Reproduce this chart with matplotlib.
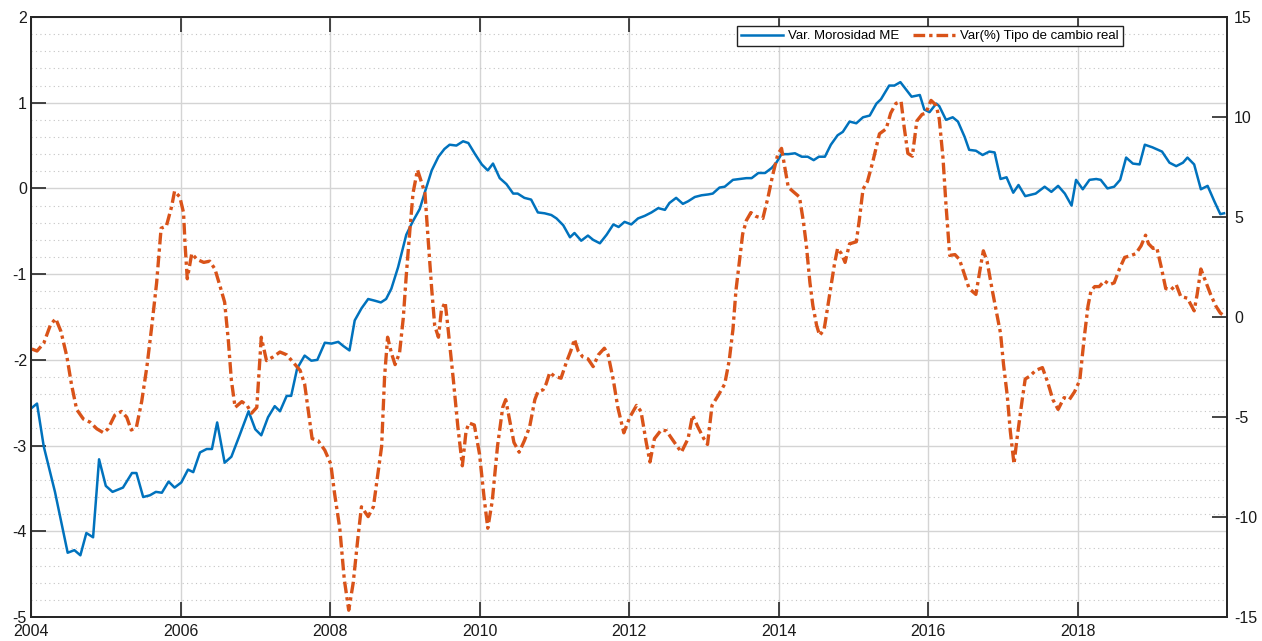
import matplotlib
matplotlib.use('Agg')
import matplotlib.pyplot as plt
import numpy as np

plt.rcParams['font.family'] = ['Liberation Sans', 'DejaVu Sans']

# Var. morosidad ME (eje izquierdo)
mor_t = [2004.01, 2004.08, 2004.17, 2004.32, 2004.49, 2004.58, 2004.66, 2004.74, 2004.83, 2004.91,
         2005.00, 2005.09, 2005.23, 2005.35, 2005.41, 2005.50, 2005.59, 2005.67, 2005.75, 2005.84,
         2005.92, 2006.01, 2006.10, 2006.17, 2006.26, 2006.35, 2006.42, 2006.49, 2006.59, 2006.68,
         2006.79, 2006.91, 2007.00, 2007.08, 2007.17, 2007.26, 2007.33, 2007.42, 2007.48, 2007.56,
         2007.66, 2007.75, 2007.83, 2007.93, 2008.02, 2008.11, 2008.18, 2008.26, 2008.33, 2008.42,
         2008.51, 2008.60, 2008.68, 2008.75, 2008.82, 2008.91, 2009.02, 2009.11, 2009.20, 2009.27,
         2009.36, 2009.45, 2009.53, 2009.60, 2009.69, 2009.78, 2009.85, 2009.94, 2010.03, 2010.11,
         2010.18, 2010.27, 2010.36, 2010.45, 2010.51, 2010.60, 2010.69, 2010.78, 2010.87, 2010.96,
         2011.03, 2011.12, 2011.21, 2011.27, 2011.36, 2011.45, 2011.52, 2011.61, 2011.70, 2011.79,
         2011.86, 2011.94, 2012.03, 2012.12, 2012.21, 2012.30, 2012.39, 2012.48, 2012.54, 2012.63,
         2012.72, 2012.79, 2012.88, 2012.97, 2013.06, 2013.12, 2013.21, 2013.28, 2013.39, 2013.48,
         2013.57, 2013.64, 2013.73, 2013.82, 2013.91, 2013.97, 2014.04, 2014.13, 2014.22, 2014.31,
         2014.39, 2014.47, 2014.54, 2014.62, 2014.70, 2014.79, 2014.86, 2014.95, 2015.04, 2015.13,
         2015.22, 2015.31, 2015.37, 2015.48, 2015.55, 2015.63, 2015.71, 2015.78, 2015.89, 2015.95,
         2016.02, 2016.11, 2016.15, 2016.24, 2016.33, 2016.40, 2016.49, 2016.55, 2016.64, 2016.73,
         2016.82, 2016.89, 2016.97, 2017.05, 2017.14, 2017.21, 2017.30, 2017.44, 2017.56, 2017.65,
         2017.74, 2017.83, 2017.92, 2017.98, 2018.07, 2018.16, 2018.25, 2018.31, 2018.40, 2018.49,
         2018.57, 2018.65, 2018.74, 2018.83, 2018.90, 2019.00, 2019.13, 2019.23, 2019.32, 2019.41,
         2019.47, 2019.56, 2019.65, 2019.74, 2019.83, 2019.91, 2019.96]
mor_v = [-2.56, -2.51, -3.01, -3.54, -4.25, -4.22, -4.28, -4.02, -4.07, -3.16,
         -3.47, -3.54, -3.49, -3.32, -3.32, -3.60, -3.58, -3.54, -3.55, -3.42,
         -3.49, -3.43, -3.28, -3.31, -3.08, -3.04, -3.04, -2.73, -3.20, -3.13,
         -2.88, -2.60, -2.81, -2.88, -2.67, -2.54, -2.60, -2.42, -2.42, -2.10,
         -1.95, -2.01, -2.00, -1.80, -1.81, -1.79, -1.84, -1.89, -1.54, -1.40,
         -1.29, -1.31, -1.33, -1.29, -1.17, -0.92, -0.54, -0.38, -0.24, -0.04,
         0.21, 0.37, 0.46, 0.51, 0.50, 0.55, 0.53, 0.40, 0.28, 0.21,
         0.29, 0.12, 0.05, -0.06, -0.06, -0.11, -0.13, -0.28, -0.29, -0.31,
         -0.35, -0.43, -0.57, -0.52, -0.61, -0.55, -0.60, -0.64, -0.54, -0.42,
         -0.45, -0.39, -0.42, -0.35, -0.32, -0.28, -0.23, -0.25, -0.17, -0.11,
         -0.18, -0.15, -0.10, -0.08, -0.07, -0.06, 0.01, 0.02, 0.10, 0.11,
         0.12, 0.12, 0.18, 0.18, 0.24, 0.30, 0.40, 0.40, 0.41, 0.37,
         0.37, 0.33, 0.37, 0.37, 0.51, 0.62, 0.66, 0.78, 0.76, 0.83,
         0.85, 0.99, 1.04, 1.20, 1.20, 1.24, 1.15, 1.07, 1.09, 0.92,
         0.89, 0.99, 0.96, 0.80, 0.83, 0.78, 0.60, 0.45, 0.44, 0.39,
         0.43, 0.42, 0.11, 0.13, -0.05, 0.04, -0.09, -0.06, 0.02, -0.04,
         0.03, -0.06, -0.20, 0.10, -0.01, 0.10, 0.11, 0.10, 0.00, 0.02,
         0.10, 0.36, 0.29, 0.28, 0.51, 0.48, 0.43, 0.30, 0.26, 0.30,
         0.36, 0.28, -0.01, 0.03, -0.15, -0.30, -0.29]

# Var(%) tipo de cambio real (eje derecho)
tcr_t = [2004.01, 2004.08, 2004.17, 2004.26, 2004.33, 2004.40, 2004.48, 2004.54, 2004.61, 2004.70,
         2004.79, 2004.88, 2004.97, 2005.03, 2005.12, 2005.21, 2005.28, 2005.34, 2005.41, 2005.48,
         2005.55, 2005.61, 2005.68, 2005.74, 2005.81, 2005.88, 2005.92, 2005.99, 2006.04, 2006.06,
         2006.09, 2006.15, 2006.22, 2006.31, 2006.39, 2006.46, 2006.53, 2006.59, 2006.64, 2006.68,
         2006.73, 2006.82, 2006.89, 2006.95, 2007.02, 2007.08, 2007.15, 2007.24, 2007.33, 2007.42,
         2007.51, 2007.60, 2007.66, 2007.71, 2007.76, 2007.84, 2007.93, 2008.01, 2008.06, 2008.13,
         2008.19, 2008.25, 2008.31, 2008.37, 2008.42, 2008.51, 2008.58, 2008.64, 2008.69, 2008.73,
         2008.77, 2008.82, 2008.87, 2008.93, 2008.98, 2009.02, 2009.07, 2009.11, 2009.17, 2009.22,
         2009.27, 2009.31, 2009.36, 2009.40, 2009.45, 2009.49, 2009.54, 2009.58, 2009.65, 2009.71,
         2009.77, 2009.82, 2009.86, 2009.93, 2010.00, 2010.06, 2010.11, 2010.17, 2010.24, 2010.31,
         2010.35, 2010.41, 2010.46, 2010.53, 2010.60, 2010.67, 2010.74, 2010.78, 2010.85, 2010.89,
         2010.94, 2011.00, 2011.09, 2011.16, 2011.22, 2011.27, 2011.32, 2011.38, 2011.45, 2011.52,
         2011.59, 2011.67, 2011.72, 2011.79, 2011.85, 2011.93, 2012.01, 2012.10, 2012.16, 2012.23,
         2012.28, 2012.34, 2012.43, 2012.50, 2012.59, 2012.70, 2012.79, 2012.85, 2012.92, 2013.00,
         2013.05, 2013.11, 2013.19, 2013.28, 2013.34, 2013.39, 2013.43, 2013.48, 2013.52, 2013.57,
         2013.63, 2013.70, 2013.79, 2013.86, 2013.92, 2013.99, 2014.04, 2014.08, 2014.13, 2014.19,
         2014.28, 2014.33, 2014.37, 2014.42, 2014.46, 2014.51, 2014.55, 2014.61, 2014.66, 2014.71,
         2014.75, 2014.79, 2014.84, 2014.89, 2014.95, 2015.04, 2015.08, 2015.13, 2015.19, 2015.26,
         2015.35, 2015.44, 2015.50, 2015.57, 2015.64, 2015.68, 2015.73, 2015.79, 2015.85, 2015.92,
         2015.97, 2016.04, 2016.11, 2016.15, 2016.20, 2016.24, 2016.29, 2016.36, 2016.42, 2016.49,
         2016.55, 2016.64, 2016.71, 2016.74, 2016.79, 2016.86, 2016.93, 2016.97, 2017.01, 2017.06,
         2017.10, 2017.15, 2017.19, 2017.26, 2017.30, 2017.36, 2017.44, 2017.53, 2017.60, 2017.67,
         2017.74, 2017.82, 2017.89, 2017.96, 2018.03, 2018.09, 2018.14, 2018.18, 2018.23, 2018.29,
         2018.36, 2018.43, 2018.49, 2018.56, 2018.63, 2018.72, 2018.78, 2018.85, 2018.91, 2018.95,
         2019.01, 2019.06, 2019.12, 2019.18, 2019.25, 2019.32, 2019.38, 2019.47, 2019.56, 2019.60,
         2019.65, 2019.71, 2019.78, 2019.85, 2019.91, 2019.96]
tcr_v = [-1.60, -1.70, -1.31, -0.39, -0.08, -0.72, -1.99, -3.35, -4.62, -5.10,
         -5.26, -5.59, -5.79, -5.59, -4.91, -4.72, -5.01, -5.65, -5.50, -4.23,
         -2.48, -0.62, 1.71, 4.44, 4.54, 5.51, 6.29, 6.00, 5.22, 3.66,
         1.91, 3.17, 2.88, 2.73, 2.79, 2.40, 1.52, 0.74, -1.21, -3.16,
         -4.52, -4.23, -4.42, -4.81, -4.52, -1.01, -2.18, -1.99, -1.75, -1.89,
         -2.28, -2.67, -3.35, -4.72, -6.08, -6.18, -6.66, -7.35, -8.81, -10.56,
         -13.10, -14.66, -13.29, -11.14, -9.49, -9.98, -9.49, -7.83, -6.47, -2.96,
         -1.01, -1.79, -2.38, -1.79, -0.04, 2.10, 4.44, 6.19, 7.36, 6.78,
         6.19, 4.00, 1.40, -0.43, -1.01, 0.35, 0.74, -0.62, -3.16, -5.49,
         -7.44, -5.69, -5.30, -5.40, -6.86, -9.00, -10.56, -9.20, -6.47, -4.52,
         -4.13, -5.30, -6.27, -6.76, -6.18, -5.49, -4.13, -3.74, -3.64, -3.35,
         -2.77, -2.96, -3.06, -2.28, -1.70, -1.11, -1.70, -1.99, -2.09, -2.48,
         -1.89, -1.56, -1.89, -3.16, -4.52, -5.79, -5.01, -4.42, -4.72, -6.27,
         -7.25, -6.08, -5.65, -5.69, -6.18, -6.76, -6.08, -4.91, -5.49, -6.08,
         -6.37, -4.42, -3.94, -3.35, -2.18, -0.62, 1.32, 2.88, 4.15, 4.83,
         5.22, 5.03, 4.93, 6.00, 7.07, 8.14, 8.43, 7.56, 6.49, 6.29,
         6.00, 4.83, 3.66, 1.71, 0.55, -0.43, -0.92, -0.62, 0.55, 1.71,
         2.69, 3.43, 3.17, 2.73, 3.66, 3.76, 4.83, 6.39, 6.78, 7.75,
         9.16, 9.41, 10.19, 10.68, 10.77, 9.51, 8.18, 8.04, 9.80, 10.13,
         10.19, 10.83, 10.58, 9.90, 7.95, 5.61, 3.08, 3.12, 2.88, 2.10,
         1.42, 1.13, 2.69, 3.31, 2.78, 1.32, -0.04, -0.82, -2.38, -3.94,
         -5.69, -7.35, -6.08, -4.13, -3.10, -2.96, -2.67, -2.53, -3.25, -4.13,
         -4.62, -4.03, -4.13, -3.74, -3.16, -1.01, 0.55, 1.32, 1.52, 1.52,
         1.81, 1.62, 1.71, 2.40, 2.98, 3.08, 3.17, 3.56, 4.09, 3.66,
         3.43, 3.47, 2.49, 1.42, 1.36, 1.62, 1.03, 0.94, 0.31, 1.13,
         2.40, 1.81, 1.13, 0.55, 0.20, 0.06]

x_ticks = [2004, 2006, 2008, 2010, 2012, 2014, 2016, 2018]
left_ticks = [-5, -4, -3, -2, -1, 0, 1, 2]
right_ticks = [-15, -10, -5, 0, 5, 10, 15]

blue = '#0072BD'
orange = '#D95319'
axis_col = '#262626'


def morosidad_tcr_viz(save_path):
    fig = plt.figure(figsize=(12.62, 6.41), dpi=100)
    ax = fig.add_axes([0.0246, 0.0374, 0.9477, 0.9361])
    ax2 = ax.twinx()

    l1, = ax.plot(mor_t, mor_v, color=blue, linewidth=1.8, label='Var. Morosidad ME')
    l2, = ax2.plot(tcr_t, tcr_v, color=orange, linewidth=2.4,
                   linestyle=(0, (3.5, 1.2, 1.0, 1.2)), label='Var(%) Tipo de cambio real')

    ax.set_xlim(2004, 2020)
    ax.set_ylim(-5, 2)
    ax2.set_ylim(-15, 15)
    ax.set_xticks(x_ticks)
    ax.set_xticklabels([str(t) for t in x_ticks])
    ax.set_yticks(left_ticks)
    ax.set_yticklabels([str(t) for t in left_ticks])
    ax2.set_yticks(right_ticks)
    ax2.set_yticklabels([str(t) for t in right_ticks])

    # rejilla estilo matlab: mayor solida, menor punteada
    ax.set_yticks(np.arange(-5, 2.01, 0.2), minor=True)
    ax.grid(True, which='major', axis='both', color='#d4d4d4', linewidth=1.0, linestyle='-')
    ax.grid(True, which='minor', axis='y', color='#c4c4c4', linewidth=0.8, linestyle=(0, (1, 3)))
    ax.set_axisbelow(True)

    ax.tick_params(axis='both', which='major', direction='in', length=11, width=1.2,
                   color=axis_col, labelsize=11.5, labelcolor='#1a1a1a',
                   top=True, bottom=True, left=True, right=False)
    ax.tick_params(axis='x', which='major', pad=5)
    ax.tick_params(axis='y', which='major', pad=3)
    ax.tick_params(axis='y', which='minor', length=0)
    ax2.tick_params(axis='y', which='major', direction='in', length=11, width=1.2,
                    color=axis_col, labelsize=11.5, labelcolor='#1a1a1a', pad=5)
    for a in (ax, ax2):
        for s in a.spines.values():
            s.set_color(axis_col)
            s.set_linewidth(1.3)

    leg = ax2.legend(handles=[l1, l2], loc='upper center', bbox_to_anchor=(0.7515, 0.985),
                     ncol=2, fontsize=9.5, frameon=True, fancybox=False, handlelength=3.2,
                     handletextpad=0.4, columnspacing=1.0, borderpad=0.3, borderaxespad=0.0)
    leg.get_frame().set_edgecolor('#222222')
    leg.get_frame().set_linewidth(1.0)
    leg.get_frame().set_alpha(1.0)

    fig.savefig(save_path, dpi=100)
    print("Figure has been saved to: ", save_path)


if __name__ == '__main__':
    morosidad_tcr_viz('out.png')
